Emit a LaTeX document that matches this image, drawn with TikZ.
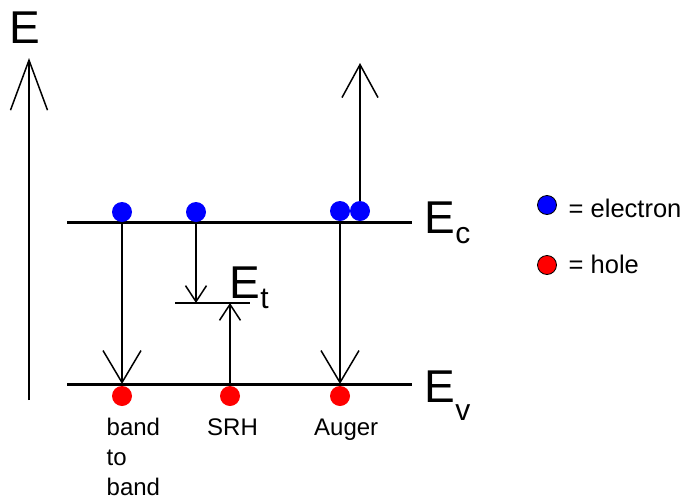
\documentclass[tikz,border=0pt]{standalone}
\usepackage{fontspec}
\setmainfont{Liberation Sans}
\usetikzlibrary{arrows.meta}
\begin{document}
\begin{tikzpicture}[x=1pt,y=-1pt,
  band/.style={line width=3pt},
  trans/.style={line width=1.5pt},
  bigbarb/.style={-{Straight Barb[length=32pt,width=38pt,line width=1.5pt]}},
  smallbarb/.style={-{Straight Barb[length=16pt,width=21pt,line width=1.5pt]}},
  elec/.style={circle,fill=blue,inner sep=0pt,minimum size=20pt},
  hole/.style={circle,fill=red,inner sep=0pt,minimum size=20pt},
  bigE/.style={anchor=base west,inner sep=0pt,font=\fontsize{46}{46}\selectfont},
  lbl/.style={anchor=base west,inner sep=0pt,font=\fontsize{24}{30}\selectfont,align=left},
  leg/.style={anchor=base west,inner sep=0pt,font=\fontsize{25.5}{30}\selectfont},
]
\useasboundingbox (0,0) rectangle (683,501);
% axis
\node[bigE] (E) at (9.5,43) {E};
\coordinate (axbot) at (29,400);
\coordinate (axtop) at (29,58);
\draw[trans,-{Straight Barb[length=50pt,width=37pt,line width=1.5pt]}] (axbot) -- (axtop);
% bands
\coordinate (ecL) at (67,222); \coordinate (ecR) at (412,222);
\coordinate (evL) at (67,384); \coordinate (evR) at (412,384);
\coordinate (etL) at (175,303); \coordinate (etR) at (250,303);
\draw[band] (ecL) -- (ecR);
\draw[band] (evL) -- (evR);
\draw[trans] (etL) -- (etR);
% labels
\node[bigE] (Ec) at (424.5,233) {E\raisebox{-10pt}{\fontsize{30}{30}\selectfont c}};
\node[bigE] (Ev) at (424.5,402) {E\raisebox{-18pt}{\fontsize{30}{30}\selectfont v}};
\node[bigE] (Et) at (229.5,298) {E\raisebox{-10pt}{\fontsize{30}{30}\selectfont t}};
% transition points
\coordinate (b1) at (122,222); \coordinate (b2) at (122,384);
\coordinate (s1) at (196,222); \coordinate (s2) at (196,303);
\coordinate (s3) at (230,384); \coordinate (s4) at (230,303);
\coordinate (a1) at (340,222); \coordinate (a2) at (340,384);
\coordinate (a3) at (360,212); \coordinate (a4) at (360,63);
\draw[trans,bigbarb] (b1) -- (b2);
\draw[trans,smallbarb] (s1) -- (s2);
\draw[trans,smallbarb] (s3) -- (s4);
\draw[trans,bigbarb] (a1) -- (a2);
\draw[trans,-{Straight Barb[length=33pt,width=36pt,line width=1.5pt]}] (a3) -- (a4);
% carriers
\node[elec] (e1) at (122,212) {};
\node[elec] (e2) at (196,212) {};
\node[elec] (e3) at (340,211) {};
\node[elec] (e4) at (360,211) {};
\node[hole] (h1) at (122,396) {};
\node[hole] (h2) at (230,396) {};
\node[hole] (h3) at (340,396) {};
% bottom labels
\node[lbl] (l1) at (106.5,495) {band\\to\\band};
\node[lbl] (l2) at (207,435) {SRH};
\node[lbl] (l3) at (314,435) {Auger};
% legend
\node[elec,draw=black,line width=0.8pt,minimum size=19pt] (le) at (547,205) {};
\node[hole,draw=black,line width=0.8pt,minimum size=19pt] (lh) at (547,265) {};
\node[leg] (lt1) at (568.5,217) {= electron};
\node[leg] (lt2) at (568.5,273) {= hole};
\end{tikzpicture}
\end{document}
